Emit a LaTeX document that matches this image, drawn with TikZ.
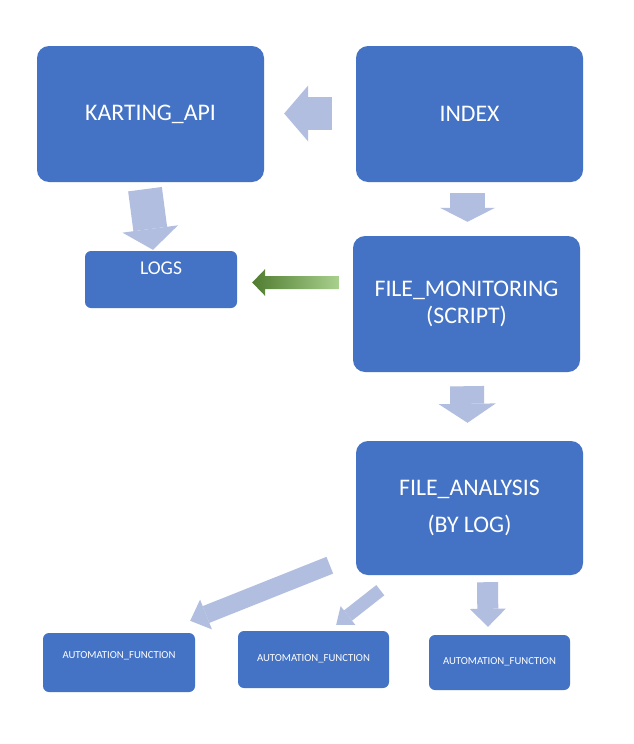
\documentclass[tikz,border=0pt]{standalone}
\usepackage{fontspec}
\setmainfont{Carlito}
\usetikzlibrary{arrows.meta,calc}
\definecolor{boxblue}{HTML}{4472C4}
\definecolor{arrowc}{RGB}{177,190,224}
\definecolor{gdark}{HTML}{4F7C2F}
\definecolor{gmid}{HTML}{70AD47}
\definecolor{glight}{HTML}{A9D18E}
\tikzset{
  bigbox/.style={fill=boxblue, draw=none, rounded corners=12pt, inner sep=0pt,
    text=white, align=center, font=\fontsize{23.8}{27}\selectfont,
    minimum width=227pt, minimum height=136pt},
  smallbox/.style={fill=boxblue, draw=none, rounded corners=6pt, inner sep=0pt},
  boxtext/.style={text=white, inner sep=0pt},
  barrow/.style n args={3}{draw=arrowc, line cap=butt, line width=#1,
    -{Triangle[length=#3, width=#2, line width=0pt]}},
}
\begin{document}
\begin{tikzpicture}[x=1pt,y=-1pt]
\useasboundingbox (0,0) rectangle (634,744);
\fill[white] (0,0) rectangle (634,744);

% boxes
\node[bigbox] (karting) at (150.5,114) {KARTING\_API};
\node[bigbox] (index) at (469.5,114) {INDEX};
\node[smallbox, minimum width=152pt, minimum height=57pt] (logs) at (161,279.5) {};
\node[boxtext, font=\fontsize{19.5}{22}\selectfont] (logstext) at (161,268) {LOGS};
\node[bigbox] (fmon) at (466.5,304) {FILE\_MONITORING\\(SCRIPT)};
\node[bigbox, minimum height=134pt, font=\fontsize{23.8}{37}\selectfont] (fan) at (469.5,508) {FILE\_ANALYSIS\\(BY LOG)};
\node[smallbox, minimum width=152pt, minimum height=59pt] (af1) at (119,662.5) {};
\node[smallbox, minimum width=151pt, minimum height=57pt] (af2) at (313.5,659.5) {};
\node[smallbox, minimum width=141pt, minimum height=55pt] (af3) at (499.5,662.5) {};
\node[boxtext, font=\fontsize{10.7}{12}\selectfont] (af1text) at (119,656) {AUTOMATION\_FUNCTION};
\node[boxtext, font=\fontsize{10.7}{12}\selectfont] (af2text) at (313.5,659) {AUTOMATION\_FUNCTION};
\node[boxtext, font=\fontsize{10.7}{12}\selectfont] (af3text) at (499.5,661.5) {AUTOMATION\_FUNCTION};

% block arrows
\draw[barrow={33pt}{56pt}{24pt}] ($(index.west)+(-24,-0.5)$) -- ($(karting.east)+(20,-0.5)$);
\draw[barrow={34pt}{56pt}{21pt}] ($(karting.south)+(-5.5,7)$) -- ($(logs.north)+(-8,-1)$);
\draw[barrow={35pt}{55pt}{14pt}] ($(index.south)+(-2,11)$) -- ($(fmon.north)+(1,-14)$);
\draw[barrow={34pt}{57pt}{19pt}] ($(fmon.south)+(0.5,14)$) -- ($(fan.north)+(-2,-18)$);
\draw[barrow={18pt}{32pt}{17pt}] ($(fan.south west)+(-26,-10)$) -- ($(af1.north east)+(-5,-12)$);
\draw[barrow={13pt}{24pt}{15pt}] ($(fan.south west)+(24.5,15)$) -- ($(af2.north east)+(-53,-6)$);
\draw[barrow={21pt}{36pt}{18pt}] ($(fan.south)+(18,7)$) -- ($(af3.north)+(-11.5,-8)$);

% green gradient arrow
\coordinate (gstart) at ($(fmon.west)+(-14,-21.5)$);
\coordinate (gtip) at ($(logs.east)+(15,3)$);
\shade[left color=gdark, middle color=gmid, right color=glight]
  ($(gstart)+(0,-6.5)$) -- ($(gtip)+(13,-6.5)$) -- ($(gtip)+(13,-13.5)$) -- (gtip)
  -- ($(gtip)+(13,13.5)$) -- ($(gtip)+(13,6.5)$) -- ($(gstart)+(0,6.5)$) -- cycle;
\end{tikzpicture}
\end{document}
